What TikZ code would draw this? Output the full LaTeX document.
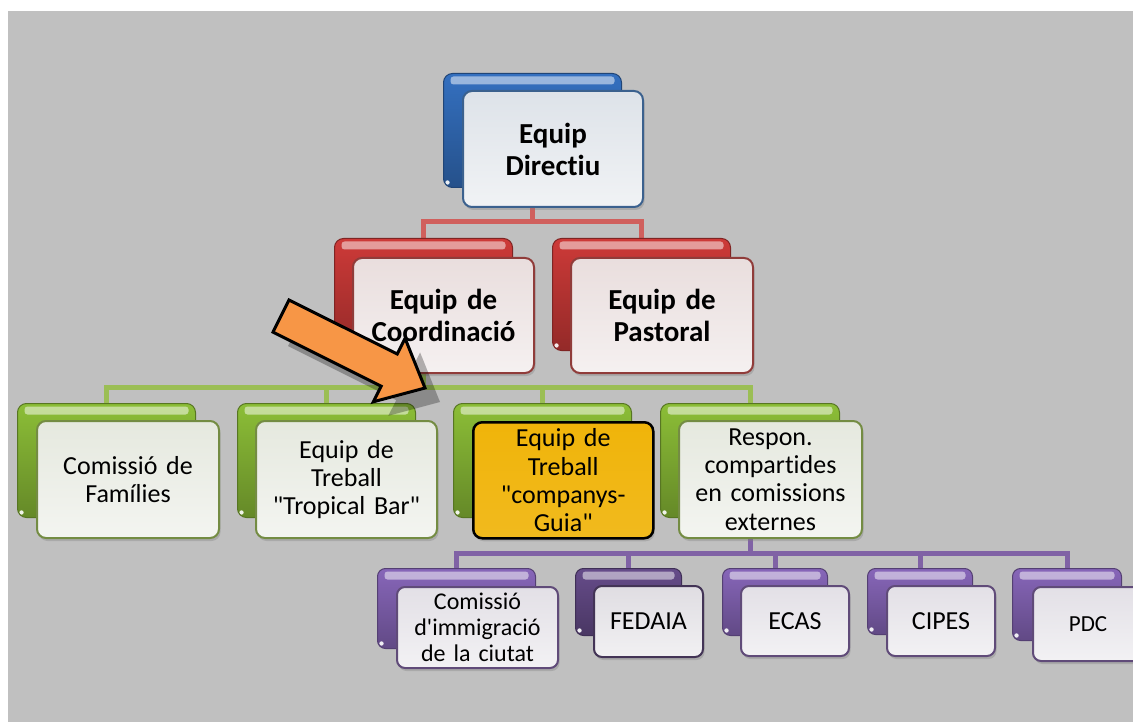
\documentclass[tikz,border=0pt]{standalone}
\usepackage{fontspec}
\setmainfont{Carlito}[Ligatures={TeXOff,CommonOff}]
\usetikzlibrary{shadows}
\definecolor{bgGray}{RGB}{192,192,192}
\definecolor{cBlue}{RGB}{79,129,189}
\definecolor{cRed}{RGB}{192,80,77}
\definecolor{cGreen}{RGB}{155,187,89}
\definecolor{cPurple}{RGB}{128,100,162}
\definecolor{cPurpleD}{RGB}{96,74,123}
\definecolor{bBlue}{RGB}{52,112,192}
\definecolor{bRed}{RGB}{205,58,56}
\definecolor{bGreen}{RGB}{140,190,55}
\definecolor{bPurple}{RGB}{135,102,185}
\definecolor{bPurpleD}{RGB}{102,76,138}
\definecolor{cGold}{RGB}{240,180,10}
\definecolor{cOrange}{RGB}{247,150,70}
\definecolor{lnRed}{RGB}{208,96,93}
\definecolor{lnGreen}{RGB}{155,190,85}
\definecolor{lnPurple}{RGB}{128,98,165}
\pgfdeclarelayer{bg}
\pgfdeclarelayer{lines}
\pgfsetlayers{bg,lines,main}
\tikzset{
  gloss/.style={path picture={
     \fill[white,opacity=0.5,rounded corners=3pt]
       ([xshift=7pt,yshift=-3pt]path picture bounding box.north west) rectangle
       ([xshift=-7pt,yshift=-11pt]path picture bounding box.north east);
     \fill[white,opacity=0.9] ([xshift=4pt,yshift=5pt]path picture bounding box.south west) circle (2.2pt);
  }},
  backbox/.style={anchor=north west, inner sep=0pt, rounded corners=9pt,
     draw=#1!62!black, line width=1pt, top color=#1, bottom color=#1!72!black, gloss},
  frontbox/.style={anchor=north west, inner xsep=4pt, inner ysep=0pt, rounded corners=9pt,
     draw=#1!75!black, line width=2pt, top color=#1!11!white!94!black, bottom color=#1!4!white!97!black,
     align=center, drop shadow={shadow xshift=1.5pt, shadow yshift=-3pt, opacity=0.35}},
  lvA/.style={font=\bfseries\fontsize{29}{32}\selectfont},
  lvC/.style={font=\fontsize{26}{28.3}\selectfont},
  lvD/.style={font=\fontsize{24}{26}\selectfont},
  lvE/.style={font=\fontsize{26}{28}\selectfont},
  conn/.style={line width=5pt},
}
\begin{document}
\begin{tikzpicture}[x=1pt,y=-1pt]
\useasboundingbox (0,0) rectangle (1133,722);
\begin{pgfonlayer}{bg}
\fill[white] (0,0) rectangle (1133,722);
\fill[bgGray] (8,11) rectangle (1133,722);
\end{pgfonlayer}

% ---------- level 1
\node[backbox=bBlue, minimum width=178pt, minimum height=114pt] (dirB) at (443,73) {};
\node[frontbox=cBlue, lvA, minimum width=180pt, minimum height=116pt, text width=170pt] (dir) at (462,90) {Equip\\Directiu};

% ---------- level 2
\node[backbox=bRed, minimum width=178pt, minimum height=112pt] (coordB) at (334,238) {};
\node[frontbox=cRed, lvA, minimum width=181pt, minimum height=115pt, text width=172pt] (coord) at (352,257) {Equip de\\Coordinació};
\node[backbox=bRed, minimum width=178pt, minimum height=112pt] (pastB) at (552,238) {};
\node[frontbox=cRed, lvA, minimum width=182pt, minimum height=115pt, text width=172pt] (past) at (570,257) {Equip de\\Pastoral};

% ---------- level 3
\node[backbox=bGreen, minimum width=178pt, minimum height=114pt] (famB) at (17,403) {};
\node[frontbox=cGreen, lvC, minimum width=182pt, minimum height=117pt, text width=174pt] (fam) at (36,420) {Comissió de\\Famílies};
\node[backbox=bGreen, minimum width=178pt, minimum height=114pt] (tropB) at (237,403) {};
\node[frontbox=cGreen, lvC, minimum width=181pt, minimum height=117pt, text width=173pt] (trop) at (255,420) {Equip de\\Treball\\"Tropical Bar"};
\node[backbox=bGreen, minimum width=178pt, minimum height=114pt] (guiaB) at (453,403) {};
\node[frontbox=cGreen, lvC, minimum width=180pt, minimum height=116pt, text width=172pt,
      draw=black, line width=2.5pt, top color=cGold, bottom color=cGold!92!white] (guia) at (472,421) {Equip de\\Treball\\"companys-\\Guia"};
\node[backbox=bGreen, minimum width=179pt, minimum height=114pt] (resB) at (660,403) {};
\node[frontbox=cGreen, lvC, minimum width=183pt, minimum height=117pt, text width=175pt] (res) at (678,420) {Respon.\\compartides\\en comissions\\externes};

% ---------- level 4
\node[backbox=bPurple, rounded corners=8pt, minimum width=158pt, minimum height=80pt] (immB) at (377,568) {};
\node[frontbox=cPurple, lvD, rounded corners=8pt, minimum width=161pt, minimum height=81pt, text width=153pt] (imm) at (396,586) {Comissió\\d'immigració\\de la ciutat};
\node[backbox=bPurpleD, rounded corners=8pt, minimum width=106pt, minimum height=67pt] (fedB) at (575,568) {};
\node[frontbox=cPurpleD, lvE, rounded corners=8pt, minimum width=109pt, minimum height=71pt, text width=101pt, draw=cPurpleD!70!black] (fed) at (593,585) {FEDAIA};
\node[backbox=bPurple, rounded corners=8pt, minimum width=105pt, minimum height=67pt] (ecaB) at (722,568) {};
\node[frontbox=cPurple, lvE, rounded corners=8pt, minimum width=108pt, minimum height=70pt, text width=100pt] (eca) at (740,585) {ECAS};
\node[backbox=bPurple, rounded corners=8pt, minimum width=105pt, minimum height=66pt] (cipB) at (867,568) {};
\node[frontbox=cPurple, lvE, rounded corners=8pt, minimum width=108pt, minimum height=70pt, text width=100pt] (cip) at (886,585) {CIPES};
\node[backbox=bPurple, rounded corners=8pt, minimum width=109pt, minimum height=72pt] (pdcB) at (1012,568) {};
\node[frontbox=cPurple, rounded corners=8pt, font=\fontsize{23}{26}\selectfont, minimum width=110pt, minimum height=74pt, text width=102pt] (pdc) at (1032,586) {PDC};

% ---------- connectors
\begin{pgfonlayer}{lines}
\coordinate (busR) at (0,222);
\coordinate (busG) at (0,387);
\coordinate (busP) at (0,553);
\draw[conn,lnRed] (dirB.south) -- (dirB.south |- busR);
\draw[conn,lnRed] (coordB.north) -- (coordB.north |- busR) -- (pastB.north |- busR) -- (pastB.north);
\draw[conn,lnGreen] (coordB.south) -- (coordB.south |- busG);
\draw[conn,lnGreen] (famB.north) -- (famB.north |- busG) -- (resB.north |- busG) -- (resB.north);
\draw[conn,lnGreen] (tropB.north) -- (tropB.north |- busG);
\draw[conn,lnGreen] (guiaB.north) -- (guiaB.north |- busG);
\draw[conn,lnPurple] (resB.south) -- (resB.south |- busP);
\draw[conn,lnPurple] (immB.north) -- (immB.north |- busP) -- (pdcB.north |- busP) -- (pdcB.north);
\draw[conn,lnPurple] (fedB.north) -- (fedB.north |- busP);
\draw[conn,lnPurple] (ecaB.north) -- (ecaB.north |- busP);
\draw[conn,lnPurple] (cipB.north) -- (cipB.north |- busP);
\end{pgfonlayer}

% ---------- pointing arrow
\fill[black,opacity=0.28,shift={(15,14)}] (289,300) -- (397.2,354) -- (405.1,338.4) -- (425,388) -- (373.3,401.8) -- (381.2,386.2) -- (273,332.1) -- cycle;
\draw[fill=cOrange,line width=3pt,line join=miter] (289,300) -- (397.2,354) -- (405.1,338.4) -- (425,388) -- (373.3,401.8) -- (381.2,386.2) -- (273,332.1) -- cycle;
\end{tikzpicture}
\end{document}
